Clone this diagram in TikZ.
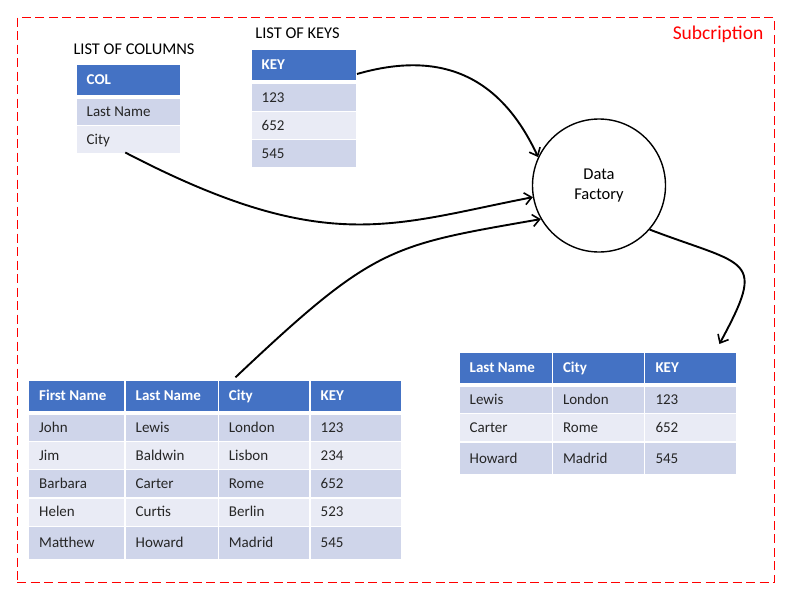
\documentclass[tikz,border=0pt]{standalone}
\usepackage{fontspec}
\setmainfont{Carlito}
\usetikzlibrary{arrows.meta}
\definecolor{hdr}{HTML}{4472C4}
\definecolor{rowd}{HTML}{CFD5EA}
\definecolor{rowl}{HTML}{E9EBF5}
\definecolor{txt}{HTML}{262626}
\tikzset{
  cellbox/.style={draw=none, inner sep=0pt, outer sep=0pt},
  celltext/.style={inner sep=0pt, text height=9.7pt, text depth=0pt, font=\fontsize{15}{18}\selectfont, text=txt},
  hdrtext/.style={celltext, font=\fontsize{15}{18}\selectfont\bfseries, text=white},
  title/.style={inner sep=0pt, font=\fontsize{16.4}{19}\selectfont, text=black},
  flow/.style={line width=1.9pt, -{Straight Barb[length=7pt,width=12pt,line width=1.6pt]}},
}
\newcommand\hcell[6]{%
  \node[cellbox, fill=hdr, minimum width={(#4)-(#2)}, minimum height={(#5)-(#3)}, anchor=north west] (#1) at (#2,#3) {};
  \node[hdrtext, anchor=west] (#1t) at ([xshift=10pt]#1.west) {#6};}
\newcommand\dcell[7]{%
  \node[cellbox, fill=#6, minimum width={(#4)-(#2)}, minimum height={(#5)-(#3)}, anchor=north west] (#1) at (#2,#3) {};
  \node[celltext, anchor=west] (#1t) at ([xshift=10pt]#1.west) {#7};}
\begin{document}
\begin{tikzpicture}[x=1pt,y=-1pt]
\useasboundingbox (0,0) rectangle (800,608);
% frame
\node[draw=red, dash pattern=on 9pt off 4.5pt, line width=1.3pt, minimum width=757pt, minimum height=565pt, anchor=north west, inner sep=0pt] (frame) at (16.5,17) {};
\node[inner sep=0pt, anchor=east, text=red, font=\fontsize{19.5}{22}\selectfont] (sub) at (763.5,34.5) {Subcription};

% list of columns
\node[title] (lcol) at (134,49) {LIST OF COLUMNS};
\hcell{colh}{76.5}{64.5}{180}{94.5}{COL}
\dcell{colr1}{76.5}{98.5}{180}{124.5}{rowd}{Last Name}
\dcell{colr2}{76.5}{126}{180}{152.5}{rowl}{City}

% list of keys
\node[title] (lkey) at (297.5,33.5) {LIST OF KEYS};
\hcell{keyh}{251.5}{50}{355.5}{80}{KEY}
\dcell{keyr1}{251.5}{84}{355.5}{110.5}{rowd}{123}
\dcell{keyr2}{251.5}{112}{355.5}{138.5}{rowl}{652}
\dcell{keyr3}{251.5}{140}{355.5}{166.5}{rowd}{545}

% data factory
\node[draw=black, line width=1.4pt, circle, minimum size=133pt, inner sep=0pt, align=center,
  font=\fontsize{16.5}{20}\selectfont] (df) at (599,185.5) {Data\\Factory};

% big table
\hcell{bh1}{29}{381}{124.3}{411}{First Name}
\hcell{bh2}{125.5}{381}{217.5}{411}{Last Name}
\hcell{bh3}{218.7}{381}{309.3}{411}{City}
\hcell{bh4}{310.5}{381}{401}{411}{KEY}
\dcell{b11}{29}{415}{124.3}{441}{rowd}{John}
\dcell{b12}{125.5}{415}{217.5}{441}{rowd}{Lewis}
\dcell{b13}{218.7}{415}{309.3}{441}{rowd}{London}
\dcell{b14}{310.5}{415}{401}{441}{rowd}{123}
\dcell{b21}{29}{442.3}{124.3}{469}{rowl}{Jim}
\dcell{b22}{125.5}{442.3}{217.5}{469}{rowl}{Baldwin}
\dcell{b23}{218.7}{442.3}{309.3}{469}{rowl}{Lisbon}
\dcell{b24}{310.5}{442.3}{401}{469}{rowl}{234}
\dcell{b31}{29}{470.3}{124.3}{497.3}{rowd}{Barbara}
\dcell{b32}{125.5}{470.3}{217.5}{497.3}{rowd}{Carter}
\dcell{b33}{218.7}{470.3}{309.3}{497.3}{rowd}{Rome}
\dcell{b34}{310.5}{470.3}{401}{497.3}{rowd}{652}
\dcell{b41}{29}{498.5}{124.3}{525.7}{rowl}{Helen}
\dcell{b42}{125.5}{498.5}{217.5}{525.7}{rowl}{Curtis}
\dcell{b43}{218.7}{498.5}{309.3}{525.7}{rowl}{Berlin}
\dcell{b44}{310.5}{498.5}{401}{525.7}{rowl}{523}
\dcell{b51}{29}{527}{124.3}{559}{rowd}{Matthew}
\dcell{b52}{125.5}{527}{217.5}{559}{rowd}{Howard}
\dcell{b53}{218.7}{527}{309.3}{559}{rowd}{Madrid}
\dcell{b54}{310.5}{527}{401}{559}{rowd}{545}

% result table
\hcell{rh1}{459.5}{353}{551.5}{383}{Last Name}
\hcell{rh2}{552.8}{353}{644}{383}{City}
\hcell{rh3}{645.3}{353}{735.5}{383}{KEY}
\dcell{r11}{459.5}{387}{551.5}{413}{rowd}{Lewis}
\dcell{r12}{552.8}{387}{644}{413}{rowd}{London}
\dcell{r13}{645.3}{387}{735.5}{413}{rowd}{123}
\dcell{r21}{459.5}{414.3}{551.5}{441}{rowl}{Carter}
\dcell{r22}{552.8}{414.3}{644}{441}{rowl}{Rome}
\dcell{r23}{645.3}{414.3}{735.5}{441}{rowl}{652}
\dcell{r31}{459.5}{442.5}{551.5}{474}{rowd}{Howard}
\dcell{r32}{552.8}{442.5}{644}{474}{rowd}{Madrid}
\dcell{r33}{645.3}{442.5}{735.5}{474}{rowd}{545}

% connectors
\draw[flow] ([xshift=1.5pt,yshift=-9pt]keyh.east) .. controls (440,50) and (500,75) .. (df.155);
\draw[flow] ([xshift=-3pt]colr2.south) .. controls (326,257) and (391,224.6) .. (df.190);
\draw[flow] ([xshift=-28.5pt,yshift=3.7pt]bh3.north) .. controls (375,245.4) and (390,245.5) .. (df.210);
\draw[flow] (df.-41) .. controls (748,267) and (767,256) .. ([xshift=29pt,yshift=9pt]rh3.north);
\end{tikzpicture}
\end{document}
